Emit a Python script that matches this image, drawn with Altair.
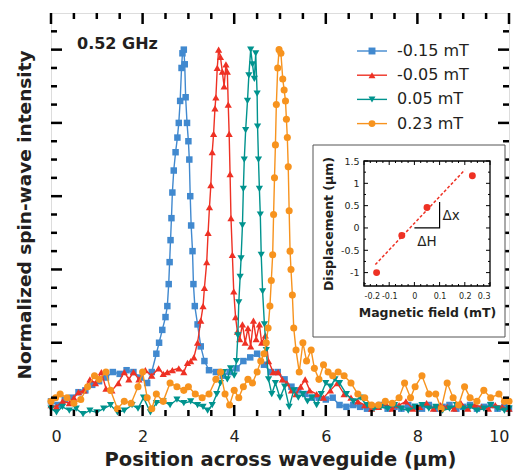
import altair as alt
import pandas as pd

# ---------------- data ----------------
SERIES = ["-0.15 mT", "-0.05 mT", "0.05 mT", "0.23 mT"]
COLORS = ["#4189cf", "#ee3124", "#00938e", "#f7931e"]
SHAPES = ["square", "triangle-up", "triangle-down", "circle"]
SIZES = [42, 52, 52, 50]

BLUE_X = [0.0, 0.15, 0.3, 0.45, 0.6, 0.75, 0.9, 1.05, 1.2, 1.35, 1.5, 1.65, 1.8, 1.95, 2.1, 2.2, 2.3, 2.36, 2.43, 2.5,
          2.54, 2.57, 2.59, 2.61, 2.63, 2.65, 2.68, 2.72, 2.76, 2.79, 2.82, 2.85, 2.87, 2.9, 2.92, 2.94, 2.97, 3.0, 3.02, 3.04,
          3.06, 3.09, 3.11, 3.14, 3.2, 3.27, 3.35, 3.45, 3.6, 3.75, 3.9, 4.05, 4.2, 4.35, 4.5, 4.65, 4.8, 4.95, 5.1, 5.25,
          5.4, 5.55, 5.7, 5.85, 6.0, 6.15, 6.3, 6.45, 6.6, 6.75, 6.9, 7.05, 7.2, 7.35, 7.5, 7.65, 7.8, 7.95, 8.1, 8.25,
          8.4, 8.55, 8.7, 8.85, 9.0, 9.15, 9.3, 9.45, 9.6, 9.75, 9.9, 10.0]
BLUE_Y = [0.04, 0.03, 0.045, 0.05, 0.065, 0.07, 0.085, 0.095, 0.105, 0.12, 0.115, 0.125, 0.12, 0.105, 0.09, 0.12, 0.17, 0.2, 0.235, 0.27,
          0.3, 0.36, 0.42, 0.48, 0.54, 0.61, 0.67, 0.72, 0.76, 0.8, 0.86, 0.95, 0.99, 1.0, 0.96, 0.87, 0.8, 0.75, 0.7, 0.6,
          0.52, 0.45, 0.36, 0.3, 0.25, 0.19, 0.15, 0.125, 0.12, 0.11, 0.12, 0.13, 0.15, 0.16, 0.17, 0.14, 0.12, 0.12, 0.1, 0.08,
          0.07, 0.06, 0.05, 0.05, 0.045, 0.05, 0.03, 0.025, 0.03, 0.025, 0.02, 0.025, 0.03, 0.02, 0.025, 0.02, 0.03, 0.025, 0.02, 0.03,
          0.02, 0.025, 0.03, 0.02, 0.025, 0.03, 0.02, 0.025, 0.03, 0.02, 0.025, 0.02]

RED_X = [0.0, 0.12, 0.25, 0.4, 0.5, 0.6, 0.72, 0.85, 0.97, 1.1, 1.2, 1.33, 1.47, 1.6, 1.7, 1.8, 1.92, 2.06, 2.2, 2.35,
         2.45, 2.54, 2.65, 2.79, 2.9, 2.98, 3.05, 3.12, 3.2, 3.27, 3.32, 3.35, 3.4, 3.43, 3.46, 3.49, 3.52, 3.55, 3.58, 3.6,
         3.63, 3.66, 3.7, 3.74, 3.78, 3.82, 3.85, 3.87, 3.89, 3.91, 3.93, 3.96, 3.99, 4.03, 4.07, 4.12, 4.18, 4.24, 4.3, 4.36,
         4.42, 4.48, 4.55, 4.6, 4.68, 4.75, 4.85, 4.96, 5.05, 5.15, 5.25, 5.35, 5.45, 5.55, 5.65, 5.8, 5.95, 6.1, 6.25, 6.4,
         6.55, 6.7, 6.85, 7.0, 7.15, 7.3, 7.45, 7.6, 7.75, 7.9, 8.05, 8.2, 8.35, 8.5, 8.65, 8.8, 8.95, 9.1, 9.25, 9.4,
         9.55, 9.7, 9.85, 10.0]
RED_Y = [0.03, 0.025, 0.04, 0.035, 0.05, 0.065, 0.07, 0.1, 0.09, 0.12, 0.075, 0.07, 0.09, 0.12, 0.1, 0.12, 0.1, 0.125, 0.11, 0.13,
         0.115, 0.12, 0.125, 0.13, 0.12, 0.145, 0.15, 0.16, 0.2, 0.26, 0.3, 0.35, 0.42, 0.5, 0.57, 0.63, 0.72, 0.77, 0.84, 0.87,
         0.95, 1.0, 0.98, 0.94, 0.9, 0.96, 0.94, 0.85, 0.77, 0.66, 0.54, 0.44, 0.34, 0.27, 0.23, 0.21, 0.25, 0.2, 0.24, 0.19,
         0.26, 0.21, 0.25, 0.2, 0.22, 0.15, 0.12, 0.12, 0.1, 0.09, 0.07, 0.06, 0.08, 0.1, 0.07, 0.06, 0.05, 0.07, 0.09, 0.06,
         0.05, 0.04, 0.03, 0.02, 0.025, 0.035, 0.02, 0.03, 0.04, 0.02, 0.025, 0.035, 0.02, 0.03, 0.025, 0.02, 0.035, 0.02, 0.03, 0.025,
         0.02, 0.03, 0.025, 0.02]

TEAL_X = [0.0, 0.12, 0.25, 0.4, 0.55, 0.7, 0.85, 1.0, 1.15, 1.3, 1.45, 1.6, 1.77, 1.9, 2.02, 2.17, 2.3, 2.45, 2.6, 2.75,
          2.9, 3.05, 3.2, 3.32, 3.42, 3.52, 3.62, 3.7, 3.77, 3.85, 3.92, 4.0, 4.05, 4.08, 4.1, 4.13, 4.15, 4.18, 4.2, 4.22,
          4.25, 4.29, 4.32, 4.36, 4.4, 4.44, 4.47, 4.5, 4.51, 4.53, 4.55, 4.57, 4.59, 4.62, 4.66, 4.7, 4.75, 4.82, 4.9, 5.0,
          5.1, 5.2, 5.3, 5.4, 5.5, 5.6, 5.7, 5.8, 5.9, 6.0, 6.1, 6.2, 6.3, 6.45, 6.6, 6.75, 6.9, 7.05, 7.2, 7.35,
          7.5, 7.65, 7.8, 7.95, 8.1, 8.25, 8.4, 8.55, 8.7, 8.85, 9.0, 9.15, 9.3, 9.45, 9.6, 9.75, 9.9, 10.0]
TEAL_Y = [0.02, 0.01, 0.025, 0.015, 0.02, 0.005, 0.015, 0.01, 0.02, 0.03, 0.01, 0.015, 0.03, 0.02, 0.05, 0.01, 0.035, 0.04, 0.03, 0.045,
          0.035, 0.04, 0.03, 0.025, 0.015, 0.03, 0.06, 0.09, 0.12, 0.1, 0.13, 0.11, 0.15, 0.22, 0.31, 0.38, 0.43, 0.52, 0.62, 0.7,
          0.78, 0.86, 0.93, 1.0, 0.96, 0.92, 0.99, 0.88, 0.79, 0.7, 0.62, 0.55, 0.44, 0.34, 0.25, 0.18, 0.1, 0.06, 0.09, 0.05,
          0.08, 0.025, 0.07, 0.05, 0.06, 0.04, 0.05, 0.03, 0.06, 0.09, 0.08, 0.1, 0.09, 0.06, 0.04, 0.05, 0.03, 0.02, 0.025, 0.02,
          0.03, 0.02, 0.015, 0.025, 0.03, 0.02, 0.025, 0.015, 0.02, 0.03, 0.02, 0.025, 0.015, 0.02, 0.03, 0.02, 0.015, 0.02]

ORANGE_X = [0.0, 0.1, 0.2, 0.35, 0.5, 0.65, 0.8, 0.95, 1.05, 1.2, 1.3, 1.45, 1.6, 1.75, 1.9, 2.0, 2.1, 2.2, 2.3, 2.45,
            2.6, 2.75, 2.9, 3.0, 3.15, 3.3, 3.45, 3.6, 3.7, 3.8, 3.9, 4.0, 4.1, 4.2, 4.3, 4.4, 4.5, 4.58, 4.65, 4.7,
            4.74, 4.78, 4.81, 4.84, 4.86, 4.88, 4.9, 4.92, 4.95, 4.98, 5.02, 5.06, 5.09, 5.12, 5.14, 5.16, 5.18, 5.2, 5.22, 5.24,
            5.27, 5.3, 5.35, 5.42, 5.5, 5.58, 5.68, 5.75, 5.85, 5.95, 6.05, 6.15, 6.27, 6.4, 6.55, 6.7, 6.85, 7.0, 7.15, 7.3,
            7.45, 7.6, 7.72, 7.85, 7.95, 8.1, 8.25, 8.4, 8.52, 8.65, 8.78, 8.9, 9.03, 9.15, 9.3, 9.45, 9.6, 9.78, 9.9, 10.0]
ORANGE_Y = [0.04, 0.05, 0.06, 0.05, 0.035, 0.045, 0.08, 0.11, 0.1, 0.12, 0.07, 0.02, 0.04, 0.035, 0.08, 0.12, 0.05, 0.02, 0.06, 0.04,
            0.09, 0.08, 0.07, 0.08, 0.06, 0.05, 0.06, 0.1, 0.12, 0.06, 0.03, 0.07, 0.05, 0.08, 0.1, 0.09, 0.12, 0.15, 0.17, 0.2,
            0.24, 0.3, 0.37, 0.44, 0.55, 0.65, 0.74, 0.85, 0.95, 1.0, 0.99, 0.92, 0.89, 0.86, 0.81, 0.76, 0.68, 0.56, 0.45, 0.4,
            0.33, 0.24, 0.18, 0.12, 0.2, 0.15, 0.18, 0.13, 0.1, 0.14, 0.12, 0.11, 0.12, 0.11, 0.09, 0.06, 0.05, 0.03, 0.03, 0.04,
            0.035, 0.05, 0.09, 0.05, 0.08, 0.11, 0.06, 0.06, 0.02, 0.09, 0.05, 0.03, 0.08, 0.05, 0.04, 0.07, 0.05, 0.06, 0.04, 0.04]

SERIES_X = [BLUE_X, RED_X, TEAL_X, ORANGE_X]
SERIES_Y = [BLUE_Y, RED_Y, TEAL_Y, ORANGE_Y]

FREQ_LABEL = "0.52 GHz"
X_TITLE = "Position across waveguide (µm)"
Y_TITLE = "Normalized spin-wave intensity"
X_DOMAIN = [0, 10]
Y_DOMAIN = [0, 1.1]
X_LABELS = [0, 2, 4, 6, 8, 10]
X_MINOR = [0.5, 1, 1.5, 2.5, 3, 3.5, 4.5, 5, 5.5, 6.5, 7, 7.5, 8.5, 9, 9.5]
Y_MAJOR = [0.2, 0.4, 0.6, 0.8, 1.0]
Y_MINOR = [0.05, 0.1, 0.15, 0.25, 0.3, 0.35, 0.45, 0.5, 0.55, 0.65, 0.7, 0.75, 0.85, 0.9, 0.95, 1.05]

# inset data
FIELD = [-0.15, -0.05, 0.05, 0.23]
DISPL = [-1.0, -0.17, 0.46, 1.17]
FIT_X = [-0.155, 0.2]
FIT_Y = [-0.82, 1.3]
TRI_X = [0.0, 0.1, 0.1]
TRI_Y = [0.0, 0.0, 0.58]
IX_DOMAIN = [-0.2, 0.3]
IY_DOMAIN = [-1.3, 1.5]
IX_LABELS = [-0.2, -0.1, 0, 0.1, 0.2, 0.3]
IY_LABELS = [-1, -0.5, 0, 0.5, 1, 1.5]
IX_MINOR = [-0.175, -0.15, -0.125, -0.075, -0.05, -0.025, 0.025, 0.05, 0.075, 0.125, 0.15, 0.175, 0.225, 0.25, 0.275]
IY_MINOR = [-1.25, -0.75, -0.25, 0.25, 0.75, 1.25]
INSET_X_TITLE = "Magnetic field (mT)"
INSET_Y_TITLE = "Displacement (µm)"

# ---------------- layout ----------------
W, H = 458, 403
FONT = "DejaVu Sans"
INK = "#231f20"

XS = alt.Scale(domain=X_DOMAIN, nice=False, zero=False)
YS = alt.Scale(domain=Y_DOMAIN, nice=False, zero=False)
XAXIS = alt.Axis(values=X_LABELS, format="d", orient="bottom", domain=False, ticks=False, tickSize=0, grid=False,
                 labelFont=FONT, labelFontSize=16, labelColor=INK, labelPadding=12,
                 title=X_TITLE, titleFont=FONT, titleFontSize=19.5, titleFontWeight="bold", titleColor=INK, titlePadding=6)
YAXIS = alt.Axis(orient="left", labels=False, domain=False, ticks=False, tickSize=0, grid=False,
                 title=Y_TITLE, titleFont=FONT, titleFontSize=18.5, titleFontWeight="bold", titleColor=INK, titlePadding=17)


def X(field):
    return alt.X(field, type="quantitative", scale=XS, axis=XAXIS)


def Y(field):
    return alt.Y(field, type="quantitative", scale=YS, axis=YAXIS)


main_layers = []
for name, xs, ys, col, shp, sz in zip(SERIES, SERIES_X, SERIES_Y, COLORS, SHAPES, SIZES):
    df = pd.DataFrame({"x": xs, "y": ys})
    main_layers.append(alt.Chart(df).mark_line(color=col, strokeWidth=1.4).encode(x=X("x"), y=Y("y"), order="x:Q"))
    main_layers.append(alt.Chart(df).mark_point(color=col, shape=shp, size=sz, filled=True, opacity=1).encode(x=X("x"), y=Y("y")))

MAJ, MIN = 11, 6
xt_major = pd.DataFrame({"v": X_LABELS})
xt_minor = pd.DataFrame({"v": X_MINOR})
yt_major = pd.DataFrame({"v": Y_MAJOR})
yt_minor = pd.DataFrame({"v": Y_MINOR})
for df, ln in [(xt_major, MAJ), (xt_minor, MIN)]:
    main_layers.append(alt.Chart(df).mark_rule(color="black", strokeWidth=2.5).encode(x=X("v"), y=alt.value(H), y2=alt.value(H - ln)))
    main_layers.append(alt.Chart(df).mark_rule(color="black", strokeWidth=2.5).encode(x=X("v"), y=alt.value(0), y2=alt.value(ln)))
for df, ln in [(yt_major, MAJ), (yt_minor, MIN)]:
    main_layers.append(alt.Chart(df).mark_rule(color="black", strokeWidth=2.5).encode(y=Y("v"), x=alt.value(0), x2=alt.value(ln)))
    main_layers.append(alt.Chart(df).mark_rule(color="black", strokeWidth=2.5).encode(y=Y("v"), x=alt.value(W), x2=alt.value(W - ln)))

main_layers.append(alt.Chart(pd.DataFrame({"t": [FREQ_LABEL]})).mark_text(
    font=FONT, fontSize=16, fontWeight="bold", color=INK, align="left", baseline="middle"
).encode(x=alt.value(26), y=alt.value(31), text="t:N"))

main = alt.layer(*main_layers)

# ---------------- inset ----------------
IXS = alt.Scale(domain=IX_DOMAIN, range=[313, 439], nice=False, zero=False)
IYS = alt.Scale(domain=IY_DOMAIN, range=[273, 148], nice=False, zero=False)
IXAXIS = alt.Axis(values=IX_LABELS, orient="bottom", offset=-(H - 273), domain=False, ticks=False, tickSize=0, grid=False,
                  zindex=2,
                  labelExpr="datum.value < 0 ? '-' + format(-datum.value, '') : format(datum.value, '')",
                  labelFont=FONT, labelFontSize=8, labelColor=INK, labelPadding=6,
                  title=INSET_X_TITLE, titleFont=FONT, titleFontSize=12.5, titleFontWeight="bold", titleColor=INK, titlePadding=6)
IYAXIS = alt.Axis(values=IY_LABELS, orient="left", offset=-313, domain=False, ticks=False, tickSize=0, grid=False,
                  zindex=2,
                  labelExpr="datum.value < 0 ? '-' + format(-datum.value, '') : format(datum.value, '')",
                  labelFont=FONT, labelFontSize=9.5, labelColor=INK, labelPadding=5,
                  title=INSET_Y_TITLE, titleFont=FONT, titleFontSize=12.5, titleFontWeight="bold", titleColor=INK, titlePadding=5)


def IX(field):
    return alt.X(field, type="quantitative", scale=IXS, axis=IXAXIS)


def IY(field):
    return alt.Y(field, type="quantitative", scale=IYS, axis=IYAXIS)


inset_layers = []
inset_layers.append(alt.Chart(pd.DataFrame({"a": [0]})).mark_rect(fill="white", stroke="#555555", strokeWidth=1).encode(
    x=alt.value(262), x2=alt.value(454), y=alt.value(132), y2=alt.value(324)))

frame_df = pd.DataFrame({"x1": [IX_DOMAIN[0]], "x2": [IX_DOMAIN[1]], "y1": [IY_DOMAIN[0]], "y2": [IY_DOMAIN[1]]})
inset_layers.append(alt.Chart(frame_df).mark_rect(fillOpacity=0, stroke="black", strokeWidth=1.3).encode(
    x=IX("x1"), x2="x2", y=IY("y1"), y2="y2"))

IMAJ, IMIN = 4, 2
for vals, ln in [(IX_LABELS, IMAJ), (IX_MINOR, IMIN)]:
    df = pd.DataFrame({"v": vals})
    inset_layers.append(alt.Chart(df).mark_rule(color="black", strokeWidth=1).encode(x=IX("v"), y=alt.value(273), y2=alt.value(273 - ln)))
    inset_layers.append(alt.Chart(df).mark_rule(color="black", strokeWidth=1).encode(x=IX("v"), y=alt.value(148), y2=alt.value(148 + ln)))
for vals, ln in [(IY_LABELS, IMAJ), (IY_MINOR, IMIN)]:
    df = pd.DataFrame({"v": vals})
    inset_layers.append(alt.Chart(df).mark_rule(color="black", strokeWidth=1).encode(y=IY("v"), x=alt.value(313), x2=alt.value(313 + ln)))
    inset_layers.append(alt.Chart(df).mark_rule(color="black", strokeWidth=1).encode(y=IY("v"), x=alt.value(439), x2=alt.value(439 - ln)))

fit_df = pd.DataFrame({"x": FIT_X, "y": FIT_Y})
inset_layers.append(alt.Chart(fit_df).mark_line(color="#ee3124", strokeWidth=1.5, strokeDash=[3, 2]).encode(x=IX("x"), y=IY("y")))
tri_df = pd.DataFrame({"x": TRI_X, "y": TRI_Y, "o": [0, 1, 2]})
inset_layers.append(alt.Chart(tri_df).mark_line(color="black", strokeWidth=1.2).encode(x=IX("x"), y=IY("y"), order="o:Q"))
pts_df = pd.DataFrame({"x": FIELD, "y": DISPL})
inset_layers.append(alt.Chart(pts_df).mark_point(filled=True, shape="circle", size=48, color="#ee3124", opacity=1).encode(x=IX("x"), y=IY("y")))

lab_df = pd.DataFrame({"x": [0.112, 0.05], "y": [0.26, -0.31], "t": ["Δx", "ΔH"]})
inset_layers.append(alt.Chart(lab_df.iloc[[0]]).mark_text(font=FONT, fontSize=13.5, color=INK, align="left", baseline="middle").encode(
    x=IX("x"), y=IY("y"), text="t:N"))
inset_layers.append(alt.Chart(lab_df.iloc[[1]]).mark_text(font=FONT, fontSize=13.5, color=INK, align="center", baseline="middle").encode(
    x=IX("x"), y=IY("y"), text="t:N"))

inset = alt.layer(*inset_layers)

# ---------------- legend ----------------
leg_df = pd.DataFrame({"series": SERIES, "row": [0, 1, 2, 3]})
CS = alt.Scale(domain=SERIES, range=COLORS)
SS = alt.Scale(domain=SERIES, range=SHAPES)
leg_base = alt.Chart(leg_df).transform_calculate(ly="38 + 24.2 * datum.row")
leg_line = leg_base.mark_rule(strokeWidth=1.4).encode(
    x=alt.value(306), x2=alt.value(336), y=alt.Y("ly:Q", scale=None, axis=None),
    color=alt.Color("series:N", scale=CS, legend=None))
leg_pts = leg_base.mark_point(filled=True, size=48, opacity=1).encode(
    x=alt.value(321), y=alt.Y("ly:Q", scale=None, axis=None),
    color=alt.Color("series:N", scale=CS, legend=None), shape=alt.Shape("series:N", scale=SS, legend=None))
leg_txt = leg_base.mark_text(font=FONT, fontSize=16, color=INK, align="left", baseline="middle").encode(
    x=alt.value(346), y=alt.Y("ly:Q", scale=None, axis=None), text="series:N")
legend = alt.layer(leg_line, leg_pts, leg_txt)

chart = alt.layer(main, inset, legend).resolve_scale(x="independent", y="independent").properties(
    width=W, height=H,
    autosize=alt.AutoSizeParams(type="none"),
    padding={"left": 51, "top": 13, "right": 7, "bottom": 57},
).configure_view(stroke="black", strokeWidth=3).configure(font=FONT)

chart.save("out.html", embed_options={"renderer": "svg", "actions": False})
